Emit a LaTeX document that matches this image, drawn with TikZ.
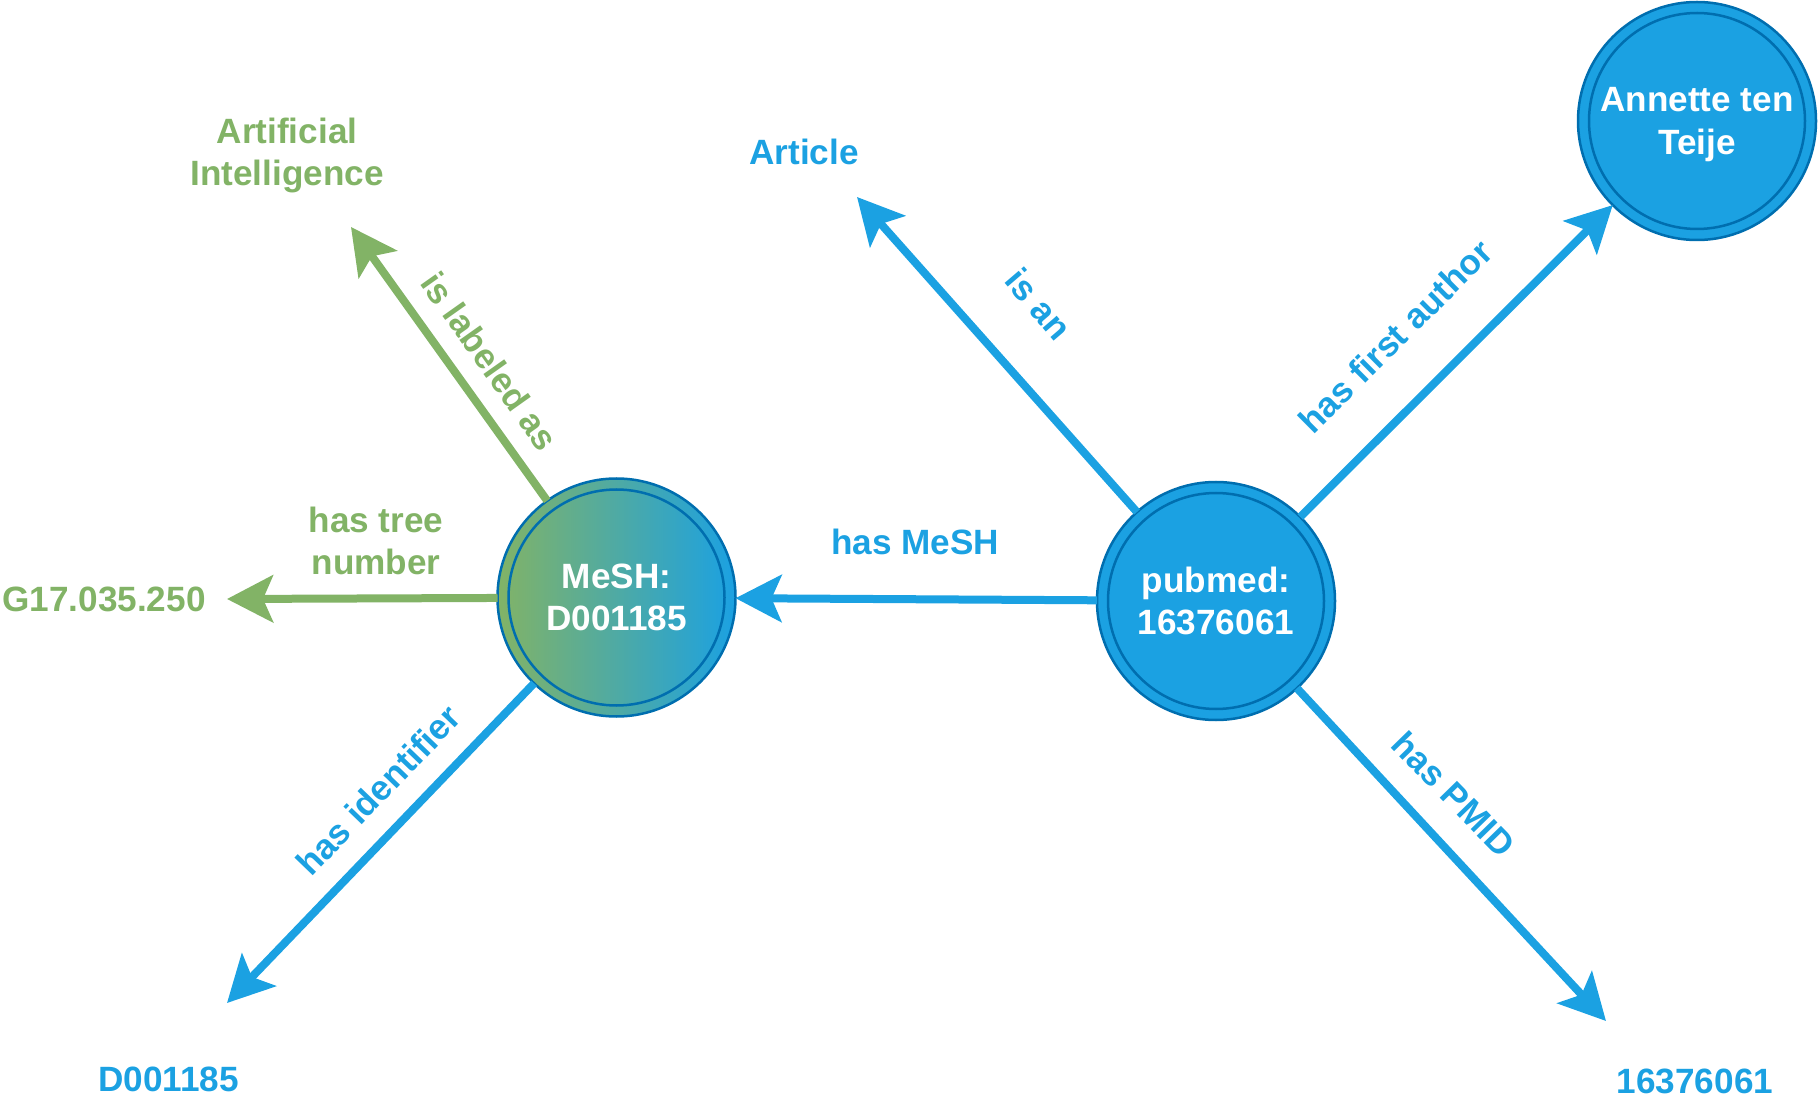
\documentclass[tikz,border=0pt]{standalone}
\usepackage{fontspec}
\setmainfont{Liberation Sans}
\usetikzlibrary{arrows.meta}

\definecolor{dioblue}{HTML}{1BA1E2}
\definecolor{diostroke}{HTML}{006EAF}
\definecolor{diogreen}{HTML}{82B366}

\begin{document}
\begin{tikzpicture}[
    entity/.style={circle,
      draw=diostroke,
      line width=0.05cm,
      minimum size=4.76cm,
      inner sep=0,
      outer sep=0,
      text=white,
      text depth=0pt,
      align=center,
      font=\bfseries\fontsize{20}{24}\selectfont,
      path picture={\draw[diostroke, line width=0.05cm]
        (path picture bounding box.center) circle (2.16cm);}},
    bluetext/.style={text=dioblue,
      text depth=0pt,
      align=center,
      font=\bfseries\fontsize{20}{24}\selectfont},
    greentext/.style={bluetext, text=diogreen},
    bluearrow/.style={-{Stealth[length=0.92cm, width=0.94cm, inset=0.2cm]},
      line width=0.16cm,
      draw=dioblue},
    greenarrow/.style={bluearrow, draw=diogreen}]

    \useasboundingbox (0,0) rectangle (36.36,-22.32);

    % pubmed article
    \node[entity, fill=dioblue] (pubmed) at (24.32,-12.02) {pubmed:\\16376061};

    % MeSH term
    \node[entity,
      left color=diogreen,
      right color=dioblue] (mesh) at (12.33,-11.95) {MeSH:\\D001185};

    % Author
    \node[entity, fill=dioblue] (annette) at (33.94,-2.42) {Annette ten\\Teije};

    % Literal values
    \node[bluetext] (article) at (16.08,-3.04) {Article};
    \node[bluetext] (pmid) at (33.90,-21.62) {16376061};
    \node[bluetext] (meshid) at (3.37,-21.58) {D001185};
    \node[greentext] (ailabel) at (5.74,-3.04) {Artificial\\Intelligence};
    \node[greentext] (treenum) at (2.08,-11.98) {G17.035.250};

    % Arrow ends
    \coordinate (articleTip) at (17.14,-3.94);
    \coordinate (pmidTip) at (32.12,-20.42);
    \coordinate (idTip) at (4.54,-20.06);
    \coordinate (aiTip) at (7.02,-4.54);
    \coordinate (treeTip) at (4.54,-11.98);

    % Draw Arrows
    \draw[bluearrow] (pubmed) -- (mesh);
    \draw[bluearrow] (pubmed) -- (annette);
    \draw[bluearrow] (pubmed) -- (articleTip);
    \draw[bluearrow] (pubmed) -- (pmidTip);
    \draw[bluearrow] (mesh) -- (idTip);
    \draw[greenarrow] (mesh) -- (aiTip);
    \draw[greenarrow] (mesh) -- (treeTip);

    % Edge labels
    \node[bluetext] (hasMesh) at (18.30,-10.84) {has MeSH};
    \node[bluetext, rotate=-49.4] (isAn) at (20.78,-6.08) {is an};
    \node[bluetext, rotate=44.8] (firstAuthor) at (27.90,-6.72) {has first author};
    \node[bluetext, rotate=-45.7] (hasPmid) at (29.08,-15.88) {has PMID};
    \node[bluetext, rotate=46.1] (hasId) at (7.56,-15.80) {has identifier};
    \node[greentext, rotate=-54.7] (isLabeled) at (9.80,-7.22) {is labeled as};
    \node[greentext] (hasTree) at (7.52,-10.82) {has tree\\number};
  \end{tikzpicture}
\end{document}
